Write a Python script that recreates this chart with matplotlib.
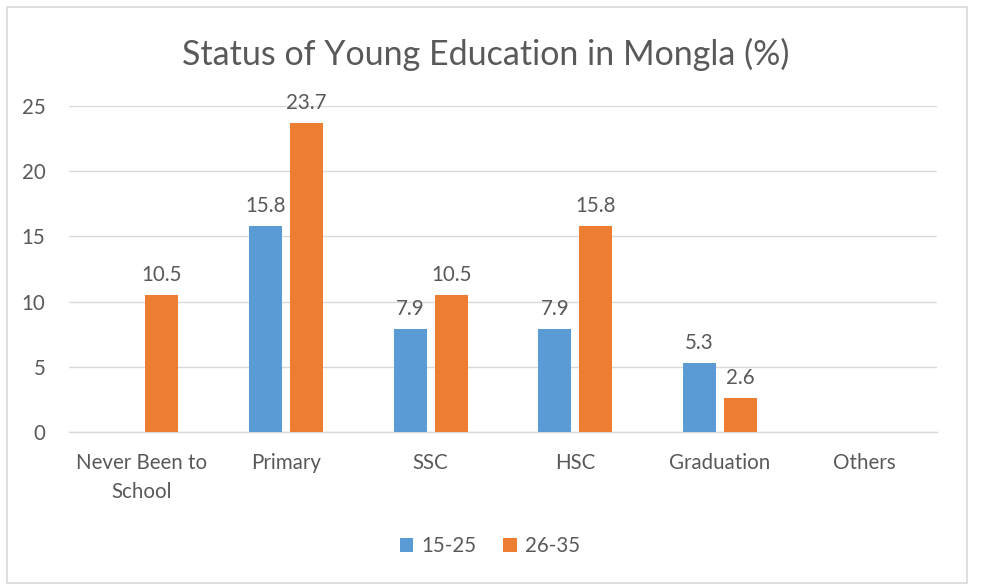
import matplotlib
matplotlib.use("Agg")
import matplotlib.pyplot as plt
import numpy as np
from matplotlib.patches import Rectangle

categories = ["Never Been to\nSchool", "Primary", "SSC", "HSC", "Graduation", "Others"]
series_names = ["15-25", "26-35"]
s1 = [0, 15.8, 7.9, 7.9, 5.3, 0]
s2 = [10.5, 23.7, 10.5, 15.8, 2.6, 0]
labels1 = [None, "15.8", "7.9", "7.9", "5.3", None]
labels2 = ["10.5", "23.7", "10.5", "15.8", "2.6", None]
yticks = [0, 5, 10, 15, 20, 25]

blue = "#5B9BD5"
orange = "#ED7D31"
txt = "#595959"
plt.rcParams['font.family'] = ['Lato', 'DejaVu Sans']

W, H = 981, 585
fig = plt.figure(figsize=(W/100, H/100), dpi=100)
fig.patches.append(Rectangle((7/W, 1-583/H), (967-7)/W, (583-7)/H, transform=fig.transFigure,
                             fill=False, edgecolor="#D9D9D9", linewidth=1.2))
ax = fig.add_axes([69/W, 1-432/H, (937-69)/W, (432-106)/H])
x = np.arange(len(categories))
bw = 0.228
off = 0.142
b1 = ax.bar(x - off, s1, bw, color=blue, label=series_names[0], zorder=3)
b2 = ax.bar(x + off, s2, bw, color=orange, label=series_names[1], zorder=3)
fs = 14.8
for rect, lab in zip(b1, labels1):
    if lab:
        ax.text(rect.get_x()+rect.get_width()/2, rect.get_height()+0.75, lab, ha="center", va="bottom", fontsize=fs, color=txt)
for rect, lab in zip(b2, labels2):
    if lab:
        ax.text(rect.get_x()+rect.get_width()/2, rect.get_height()+0.75, lab, ha="center", va="bottom", fontsize=fs, color=txt)

ax.set_xlim(-0.5, len(categories)-0.5)
ax.set_ylim(0, 25)
ax.set_yticks(yticks)
ax.set_xticks(x)
ax.set_xticklabels(categories, fontsize=fs, color=txt, linespacing=1.55)
ax.tick_params(axis="y", labelsize=fs, labelcolor=txt, length=0, pad=17)
ax.tick_params(axis="x", length=0, pad=15)
ax.grid(axis="y", color="#D9D9D9", linewidth=1, zorder=0)
for s in ["top", "right", "left"]:
    ax.spines[s].set_visible(False)
ax.spines["bottom"].set_color("#D9D9D9")
ax.spines["bottom"].set_linewidth(1)

fig.text(486/W, 1-54/H, "Status of Young Education in Mongla (%)", ha="center", va="center", fontsize=24.5, color=txt)
fig.legend(handles=[b1, b2], labels=series_names, loc="center", bbox_to_anchor=(490/W, 1-546/H),
           ncol=2, frameon=False, fontsize=fs, handlelength=0.65, handleheight=0.65, columnspacing=1.3,
           handletextpad=0.4, labelcolor=txt)
fig.savefig("out.png", dpi=100)
